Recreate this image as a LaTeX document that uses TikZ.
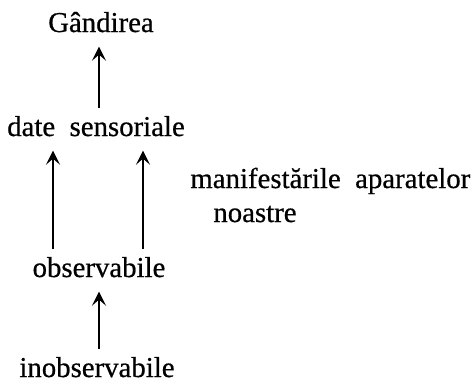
\documentclass[tikz,border=0pt]{standalone}
\usepackage{fontspec}
\setmainfont{Liberation Serif}[FakeBold=0.6]
\usetikzlibrary{arrows.meta, positioning, calc}

\tikzset{
  word/.style={inner sep=0pt, font=\fontsize{14.4}{17}\selectfont},
  arr/.style={line width=1.2pt, -{Stealth[length=7pt,width=7pt,inset=3pt]},
              shorten <=4pt, shorten >=7pt}
}

\begin{document}
\begin{tikzpicture}[x=0.5pt, y=-0.5pt]
\useasboundingbox (0,0) rectangle (473,382);

% levels, placed on their baselines
\node[word, anchor=base] (gand) at (101,32) {Gândirea};
\node[word, anchor=base] (dates) at (96,136) {date\ \ sensoriale};
\node[word, anchor=base west] (manif) at (190,188) {manifestările\ \ aparatelor};
\node[word, anchor=base west] (noastre) at (213,222) {noastre};
\node[word, anchor=base] (obs) at (99,277) {observabile};
\node[word, anchor=base] (inobs) at (97,377) {inobservabile};

% arrows
\draw[arr] ([xshift=1.5pt]dates.north) -- ([xshift=1.5pt]dates.north |- gand.south);
\draw[arr] ([xshift=-23pt]obs.north) -- ([xshift=-23pt]obs.north |- dates.south);
\draw[arr] ([xshift=22pt]obs.north) -- ([xshift=22pt]obs.north |- dates.south);
\draw[arr] ([xshift=1pt]inobs.north) -- ([xshift=1pt]inobs.north |- obs.south);
\end{tikzpicture}
\end{document}
